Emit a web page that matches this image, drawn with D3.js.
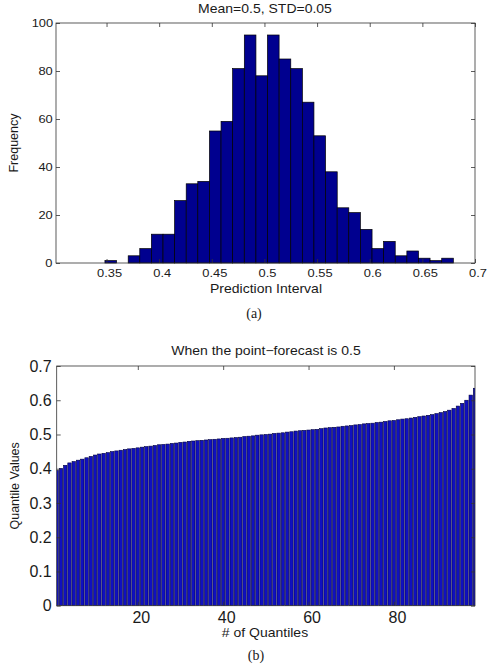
<!DOCTYPE html>
<html><head><meta charset="utf-8">
<script src="https://cdn.jsdelivr.net/npm/d3@7"></script>
<style>
body{margin:0;background:#fff}
svg text{font-family:"Liberation Sans",Arial,Helvetica,sans-serif;fill:#1a1a1a}
.st{transform-box:fill-box;transform-origin:center;transform:scaleX(1.12)}
.serif{font-family:"Liberation Serif","DejaVu Serif",serif !important}
</style></head>
<body><svg id="c" width="492" height="665"></svg>
<script>
// ---------- data ----------
const histTitle = "Mean=0.5, STD=0.05";
const histXLabel = "Prediction Interval";
const histYLabel = "Frequency";
const histBinCenters = [0.3540,0.3650,0.3761,0.3871,0.3981,0.4092,0.4202,0.4312,0.4422,0.4533,
  0.4643,0.4753,0.4864,0.4974,0.5084,0.5195,0.5305,0.5415,0.5525,0.5636,
  0.5746,0.5856,0.5967,0.6077,0.6187,0.6298,0.6408,0.6518,0.6628,0.6739];
const histCounts = [1,0,3,6,12,12,26,33,34,55,
  59,81,95,78,95,85,81,67,53,38,
  23,21,14,6,9,3,5,2,1,2];
const histBinWidth = 0.01103;
const histXTicks = [0.35,0.4,0.45,0.5,0.55,0.6,0.65,0.7];
const histYTicks = [0,20,40,60,80,100];

const quantTitle = "When the point\u2212forecast is 0.5";
const quantXLabel = "# of Quantiles";
const quantYLabel = "Quantile Values";
const quantileValues = [0.395,0.401,0.410,0.417,0.421,0.425,0.428,0.432,0.436,0.440,
  0.443,0.445,0.447,0.450,0.452,0.454,0.456,0.458,0.4595,0.461,
  0.463,0.4645,0.466,0.468,0.470,0.471,0.472,0.474,0.475,0.477,
  0.478,0.480,0.481,0.482,0.483,0.484,0.485,0.486,0.487,0.4885,
  0.489,0.490,0.491,0.492,0.494,0.495,0.496,0.498,0.499,0.500,
  0.501,0.503,0.504,0.505,0.507,0.508,0.510,0.511,0.512,0.513,
  0.514,0.515,0.517,0.519,0.520,0.521,0.522,0.524,0.525,0.526,
  0.528,0.529,0.531,0.532,0.533,0.535,0.536,0.538,0.540,0.541,
  0.543,0.545,0.546,0.548,0.550,0.552,0.554,0.556,0.558,0.561,
  0.564,0.567,0.571,0.576,0.583,0.591,0.600,0.615,0.635];
const quantXTicks = [20,40,60,80];
const quantYTicks = [0,0.1,0.2,0.3,0.4,0.5,0.6,0.7];

// ---------- drawing ----------
const svg = d3.select("#c");
const AX = "#333";

function frame(g, x0, x1, y0, y1){
  g.append("rect").attr("x",x0).attr("y",y1).attr("width",x1-x0).attr("height",y0-y1)
   .attr("fill","none").attr("stroke",AX).attr("stroke-width",0.8);
}
function styleAxis(sel, fs){
  sel.select(".domain").remove();
  sel.selectAll(".tick line").attr("stroke",AX).attr("stroke-width",0.8);
  sel.selectAll(".tick text").attr("font-size",fs).attr("fill","#1a1a1a");
}

// ----- Top histogram -----
const L1=56, R1=475, T1=23, B1=263;
const x1 = d3.scaleLinear().domain([0.302,0.7]).range([L1,R1]);
const y1 = d3.scaleLinear().domain([0,100]).range([B1,T1]);
const g1 = svg.append("g");
g1.selectAll("rect.bar").data(histCounts).join("rect").attr("class","bar")
  .attr("x",(d,i)=>x1(histBinCenters[i]-histBinWidth/2))
  .attr("width",(d,i)=>x1(histBinCenters[i]+histBinWidth/2)-x1(histBinCenters[i]-histBinWidth/2))
  .attr("y",d=>y1(d)).attr("height",d=>y1(0)-y1(d))
  .attr("fill","#00008F").attr("stroke","#000").attr("stroke-width",0.7);
frame(g1,L1,R1,B1,T1);
g1.append("g").attr("transform",`translate(0,${B1})`)
  .call(d3.axisBottom(x1).tickValues(histXTicks).tickSize(-4).tickPadding(6).tickFormat(d=>String(d)))
  .call(s=>styleAxis(s,11.5)).selectAll("text").attr("class","st").attr("dx",2.5);
g1.append("g").attr("transform",`translate(0,${T1})`)
  .call(d3.axisTop(x1).tickValues(histXTicks).tickSize(-4).tickFormat(""))
  .call(s=>styleAxis(s,11.5));
g1.append("g").attr("transform",`translate(${L1},0)`)
  .call(d3.axisLeft(y1).tickValues(histYTicks).tickSize(-4).tickPadding(4))
  .call(s=>styleAxis(s,11.5)).selectAll("text").attr("class","st");
g1.append("g").attr("transform",`translate(${R1},0)`)
  .call(d3.axisRight(y1).tickValues(histYTicks).tickSize(-4).tickFormat(""))
  .call(s=>styleAxis(s,11.5));
g1.append("text").attr("class","st").attr("x",265).attr("y",13).attr("text-anchor","middle")
  .attr("font-size",12.5).text(histTitle);
g1.append("text").attr("class","st").attr("x",266).attr("y",293).attr("text-anchor","middle")
  .attr("font-size",12.5).text(histXLabel);
g1.append("text").attr("transform",`translate(18,${(T1+B1)/2}) rotate(-90)`).attr("text-anchor","middle")
  .attr("font-size",12.5).text(histYLabel);
svg.append("text").attr("class","serif").attr("x",254).attr("y",318).attr("text-anchor","middle")
  .attr("font-size",14).text("(a)");

// ----- Bottom quantile bars -----
const L2=56.7, R2=475, T2=366, B2=605.7;
const x2 = d3.scaleLinear().domain([1,99]).range([L2,R2]);
const y2 = d3.scaleLinear().domain([0,0.7]).range([B2,T2]);
const g2 = svg.append("g");
svg.append("clipPath").attr("id","clip2").append("rect")
  .attr("x",L2).attr("y",T2).attr("width",R2-L2).attr("height",B2-T2);
g2.append("g").attr("clip-path","url(#clip2)")
  .selectAll("rect").data(quantileValues).join("rect")
  .attr("x",(d,i)=>x2(i+1-0.4)).attr("width",(d,i)=>x2(i+1+0.4)-x2(i+1-0.4))
  .attr("y",d=>y2(d)).attr("height",d=>y2(0)-y2(d))
  .attr("fill","#1010c0").attr("stroke","#000040").attr("stroke-width",0.6);
frame(g2,L2,R2,B2,T2);
g2.append("g").attr("transform",`translate(0,${B2})`)
  .call(d3.axisBottom(x2).tickValues(quantXTicks).tickSize(-4).tickPadding(6))
  .call(s=>styleAxis(s,16)).selectAll("text").attr("dx",3);
g2.append("g").attr("transform",`translate(0,${T2})`)
  .call(d3.axisTop(x2).tickValues(quantXTicks).tickSize(-4).tickFormat(""))
  .call(s=>styleAxis(s,16));
g2.append("g").attr("transform",`translate(${L2},0)`)
  .call(d3.axisLeft(y2).tickValues(quantYTicks).tickSize(-4).tickPadding(5).tickFormat(d=>String(d)))
  .call(s=>styleAxis(s,16));
g2.append("g").attr("transform",`translate(${R2},0)`)
  .call(d3.axisRight(y2).tickValues(quantYTicks).tickSize(-4).tickFormat(""))
  .call(s=>styleAxis(s,16));
g2.append("text").attr("class","st").attr("x",266).attr("y",355).attr("text-anchor","middle")
  .attr("font-size",12.5).text(quantTitle);
g2.append("text").attr("class","st").attr("x",265).attr("y",637).attr("text-anchor","middle")
  .attr("font-size",12.5).text(quantXLabel);
g2.append("text").attr("transform",`translate(19,${(T2+B2)/2}) rotate(-90)`).attr("text-anchor","middle")
  .attr("font-size",12.5).text(quantYLabel);
svg.append("text").attr("class","serif").attr("x",256).attr("y",660).attr("text-anchor","middle")
  .attr("font-size",14).text("(b)");
</script></body></html>
